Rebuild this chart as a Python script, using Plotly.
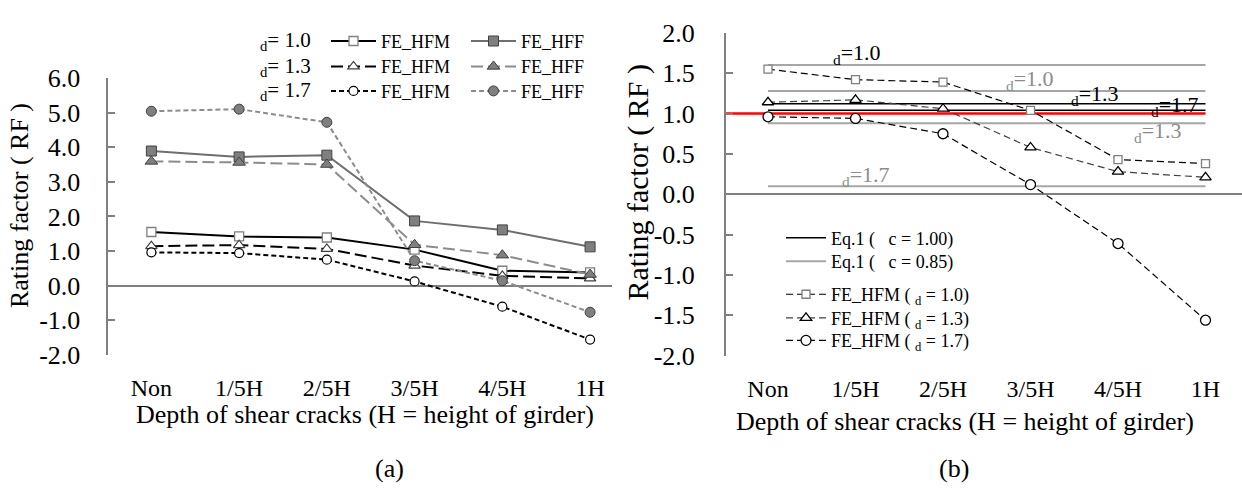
import plotly.graph_objects as go

W, H = 1242, 495
def px(x): return x / W
def py(y): return 1 - y / H

FONT = "Liberation Serif, Times New Roman, serif"

categories = ["Non", "1/5H", "2/5H", "3/5H", "4/5H", "1H"]
xpos = [0, 1, 2, 3, 4, 5]

# FE_HFM (shared by both panels)
hfm_10 = [1.55, 1.42, 1.39, 1.04, 0.43, 0.38]
hfm_13 = [1.14, 1.17, 1.06, 0.58, 0.28, 0.21]
hfm_17 = [0.96, 0.94, 0.75, 0.12, -0.61, -1.56]
# FE_HFF (panel a)
hff_10 = [3.89, 3.72, 3.77, 1.87, 1.61, 1.12]
hff_13 = [3.59, 3.56, 3.50, 1.18, 0.88, 0.32]
hff_17 = [5.04, 5.10, 4.72, 0.72, 0.14, -0.77]

# Eq.1 reference levels (panel b)
eq1_c100 = [1.12, 1.04]
eq1_c085 = [1.60, 1.28, 0.88, 0.10]
rf_limit = 1.0

yticks_a = [-2, -1, 0, 1, 2, 3, 4, 5, 6]
yticks_b = [-2.0, -1.5, -1.0, -0.5, 0.0, 0.5, 1.0, 1.5, 2.0]

fig = go.Figure()

# ---------------- panel (a) ----------------
def add_a(y, name, legend, line, marker):
    fig.add_trace(go.Scatter(x=xpos, y=y, name=name, mode="lines+markers",
                             line=line, marker=marker, legend=legend,
                             xaxis="x", yaxis="y"))

add_a(hfm_10, "FE_HFM", "legend", dict(color="black", width=2),
      dict(symbol="square", size=9, color="white", line=dict(color="#808080", width=1.3)))
add_a(hff_10, "FE_HFF", "legend2", dict(color="#6e6e6e", width=2),
      dict(symbol="square", size=10, color="#7f7f7f", line=dict(color="#404040", width=1)))
add_a(hfm_13, "FE_HFM", "legend3", dict(color="black", width=2, dash="12px,5px"),
      dict(symbol="triangle-up", size=10, color="white", line=dict(color="#404040", width=1.2)))
add_a(hff_13, "FE_HFF", "legend4", dict(color="#8c8c8c", width=2, dash="12px,5px"),
      dict(symbol="triangle-up", size=11, color="#7f7f7f", line=dict(color="#404040", width=1)))
add_a(hfm_17, "FE_HFM", "legend5", dict(color="black", width=2, dash="5px,3px"),
      dict(symbol="circle", size=9, color="white", line=dict(color="black", width=1.2)))
add_a(hff_17, "FE_HFF", "legend6", dict(color="#8c8c8c", width=2, dash="5px,3px"),
      dict(symbol="circle", size=10, color="#7f7f7f", line=dict(color="#404040", width=1)))

# ---------------- panel (b) ----------------
fig.add_trace(go.Scatter(x=[-0.48, 5], y=[rf_limit, rf_limit], mode="lines",
                         line=dict(color="red", width=2.5), showlegend=False,
                         xaxis="x2", yaxis="y2"))
for i, v in enumerate(eq1_c085):
    fig.add_trace(go.Scatter(x=[0, 5], y=[v, v], mode="lines", name="Eq.1 (   c = 0.85)",
                             line=dict(color="#a6a6a6", width=2), legend="legend8",
                             showlegend=(i == 0), legendgroup="c085",
                             xaxis="x2", yaxis="y2"))
for i, v in enumerate(eq1_c100):
    fig.add_trace(go.Scatter(x=[0, 5], y=[v, v], mode="lines", name="Eq.1 (   c = 1.00)",
                             line=dict(color="black", width=1.5), legend="legend7",
                             showlegend=(i == 0), legendgroup="c100",
                             xaxis="x2", yaxis="y2"))

def add_b(y, name, legend, line, marker):
    fig.add_trace(go.Scatter(x=xpos, y=y, name=name, mode="lines+markers",
                             line=line, marker=marker, legend=legend,
                             xaxis="x2", yaxis="y2"))

add_b(hfm_10, "FE_HFM ( <sub>d</sub> = 1.0)", "legend9",
      dict(color="black", width=1.2, dash="7px,4px"),
      dict(symbol="square", size=8, color="white", line=dict(color="#7f7f7f", width=1.3)))
add_b(hfm_13, "FE_HFM ( <sub>d</sub> = 1.3)", "legend10",
      dict(color="#404040", width=1.2, dash="7px,4px"),
      dict(symbol="triangle-up", size=10, color="white", line=dict(color="black", width=1.3)))
add_b(hfm_17, "FE_HFM ( <sub>d</sub> = 1.7)", "legend11",
      dict(color="black", width=1.2, dash="7px,4px"),
      dict(symbol="circle", size=10, color="white", line=dict(color="black", width=1.3)))

# ---------------- legends ----------------
leg_font = dict(family=FONT, size=18, color="black")
def leg(xp, yp, iw):
    return dict(x=px(xp), y=py(yp), xanchor="left", yanchor="middle", xref="paper", yref="paper",
                bgcolor="rgba(0,0,0,0)", borderwidth=0, font=leg_font, itemwidth=iw,
                tracegroupgap=0, orientation="v")

rows_a = [29, 56, 82]
col1_x, col2_x = 326, 466
rows_b = [238, 263, 298, 323, 347]
colb_x = 781

layout_legends = dict(
    legend=leg(col1_x, rows_a[0], 45), legend2=leg(col2_x, rows_a[0], 45),
    legend3=leg(col1_x, rows_a[1], 45), legend4=leg(col2_x, rows_a[1], 45),
    legend5=leg(col1_x, rows_a[2], 45), legend6=leg(col2_x, rows_a[2], 45),
    legend7=leg(colb_x, rows_b[0], 40), legend8=leg(colb_x, rows_b[1], 40),
    legend9=leg(colb_x, rows_b[2], 40), legend10=leg(colb_x, rows_b[3], 40),
    legend11=leg(colb_x, rows_b[4], 40),
)

def fmt(v):
    return f"{v:.1f}"

axis_common = dict(showgrid=False, ticks="", showline=False, zeroline=False,
                   tickfont=dict(family=FONT, size=24, color="black"))
yaxis_common = dict(showgrid=False, showline=True, linecolor="#808080", linewidth=2,
                    ticks="inside", ticklen=7, tickcolor="#808080", tickwidth=1.5,
                    zeroline=True, zerolinecolor="#808080", zerolinewidth=2,
                    tickfont=dict(family=FONT, size=26, color="black"))

fig.update_layout(
    width=W, height=H, margin=dict(l=0, r=0, t=0, b=0),
    paper_bgcolor="white", plot_bgcolor="white",
    font=dict(family=FONT, color="black"),
    xaxis=dict(domain=[px(107.5), px(612)], range=[-0.5, 5.25], tickvals=xpos,
               ticktext=categories, ticklabelstandoff=16, anchor="y", **axis_common),
    yaxis=dict(domain=[py(362), py(68)], range=[-2, 6], tickvals=yticks_a,
               ticktext=[fmt(v) for v in yticks_a], ticklabelstandoff=20, anchor="x",
               **yaxis_common),
    xaxis2=dict(domain=[px(726), 1.0], range=[-0.48, 5.417], tickvals=xpos,
                ticktext=categories, ticklabelstandoff=16, anchor="y2", **axis_common),
    yaxis2=dict(domain=[py(363), py(20)], range=[-2, 2], tickvals=yticks_b,
                ticktext=[fmt(v) for v in yticks_b], ticklabelstandoff=24, anchor="x2",
                **yaxis_common),
    **layout_legends,
)

def ann(text, x, y, size, color="black", angle=0, xanchor="center"):
    fig.add_annotation(text=text, x=px(x), y=py(y), xref="paper", yref="paper",
                       showarrow=False, textangle=angle, xanchor=xanchor, yanchor="middle",
                       font=dict(family=FONT, size=size, color=color))

ann("Rating factor ( RF )", 19, 204, 26, angle=-90)
ann("Rating factor ( RF )", 638, 178, 30, angle=-90)
ann("Depth of shear cracks (H = height of girder)", 365, 425, 26)
ann("Depth of shear cracks (H = height of girder)", 965, 433, 26)
ann("(a)", 389, 483, 26)
ann("(b)", 954, 483, 26)

row_labels = ["<sub>d</sub>= 1.0", "<sub>d</sub>= 1.3", "<sub>d</sub>= 1.7"]
for t, yy in zip(row_labels, rows_a):
    ann(t, 313, yy, 21, xanchor="right")

GRAY = "#8c8c8c"
ann("<sub>d</sub>=1.0", 857, 42, 22)
ann("<sub>d</sub>=1.0", 1030, 70, 22, color=GRAY)
ann("<sub>d</sub>=1.3", 1095, 86, 22)
ann("<sub>d</sub>=1.7", 1175, 98, 22)
ann("<sub>d</sub>=1.3", 1158, 125, 22, color=GRAY)
ann("<sub>d</sub>=1.7", 866, 172, 22, color=GRAY)

fig.write_html("out.html")
